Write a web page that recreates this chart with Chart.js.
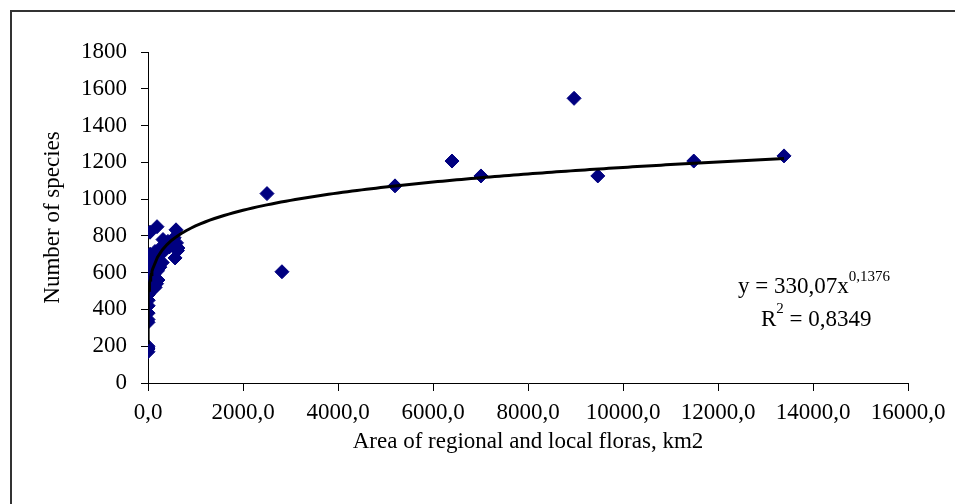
<!DOCTYPE html>
<html><head><meta charset="utf-8">
<script src="https://cdn.jsdelivr.net/npm/chart.js@4"></script>
<style>html,body{margin:0;padding:0;background:#fff}#wrap{position:relative;width:955px;height:504px}</style>
</head><body><div id="wrap"><canvas id="c" width="955" height="504"></canvas></div>
<script>
// Data
const areaKm2 = [
  0.05, 0.1, 0.2, 0.5,
  1, 2, 3, 4, 5, 6, 8, 10, 12, 15, 18, 20, 25, 30, 35, 40, 45, 50,
  100, 150, 180, 210, 120, 200, 250, 300, 183, 147, 42, 60, 80,
  42, 190,
  316, 390, 450, 500, 250, 350, 280, 420,
  590, 600, 570, 620, 550, 630,
  2505, 2820, 5200, 6400, 7010, 8970, 9470, 11490, 13390
];
const speciesCount = [
  170, 185, 200, 190,
  330, 345, 380, 420, 450, 480, 500, 520, 540, 560, 590, 610, 630, 650, 670, 690, 700, 560,
  510, 520, 540, 560, 590, 610, 630, 655, 655, 715, 697, 640, 600,
  820, 850,
  780, 760, 740, 750, 700, 720, 740, 770,
  833, 762, 680, 720, 790, 734,
  1030, 605, 1072, 1207, 1126, 1548, 1126, 1207, 1235
];
const xTickLabels = ['0,0','2000,0','4000,0','6000,0','8000,0','10000,0','12000,0','14000,0','16000,0'];
const yTickLabels = ['0','200','400','600','800','1000','1200','1400','1600','1800'];
const xTitle = 'Area of regional and local floras, km2';
const yTitle = 'Number of species';
const fitA = 330.07, fitB = 0.1376;           // displayed power-trendline coefficients
const eqMain = 'y = 330,07x', eqExp = '0,1376';
const r2Main = 'R', r2Sup = '2', r2Rest = ' = 0,8349';

const FONT = 'Liberation Serif, Times New Roman, serif';

// trendline through the displayed equation over the data range
const xMin = Math.min(...areaKm2), xMax = Math.max(...areaKm2);
const trend = [];
for (let i = 0; i <= 40; i++) { const x = xMin * Math.pow(100 / xMin, i / 40); trend.push({x, y: fitA * Math.pow(x, fitB)}); }
for (let x = 200; x <= xMax; x += 100) trend.push({x, y: fitA * Math.pow(x, fitB)});
trend.push({x: xMax, y: fitA * Math.pow(xMax, fitB)});

const pts = areaKm2.map((x, i) => ({x, y: speciesCount[i]}));

const deco = {
  id: 'deco',
  beforeDraw(chart) {
    const c = chart.ctx;
    c.save(); c.fillStyle = '#fff'; c.fillRect(0, 0, chart.width, chart.height); c.restore();
  },
  afterDraw(chart) {
    const c = chart.ctx; const a = chart.chartArea;
    c.save();
    c.fillStyle = '#333';
    c.fillRect(10, 10, chart.width - 10, 2);
    c.fillRect(10, 10, 2, chart.height - 10);
    c.fillStyle = '#000';
    c.font = '23px ' + FONT;
    c.textAlign = 'center'; c.textBaseline = 'middle';
    c.fillText(xTitle, (a.left + a.right) / 2, 442);
    c.save();
    c.translate(53, (a.top + a.bottom) / 2); c.rotate(-Math.PI / 2);
    c.fillText(yTitle, 0, 0);
    c.restore();
    c.textAlign = 'left'; c.textBaseline = 'alphabetic';
    c.font = '23px ' + FONT;
    c.fillText(eqMain, 738, 293);
    let w = c.measureText(eqMain).width;
    c.font = '15px ' + FONT;
    c.fillText(eqExp, 738 + w, 281);
    c.font = '23px ' + FONT;
    c.fillText(r2Main, 761, 326);
    w = c.measureText(r2Main).width;
    c.font = '15px ' + FONT;
    c.fillText(r2Sup, 761 + w, 313);
    const w2 = c.measureText(r2Sup).width;
    c.font = '23px ' + FONT;
    c.fillText(r2Rest, 761 + w + w2, 326);
    c.restore();
  }
};

new Chart(document.getElementById('c'), {
  type: 'scatter',
  data: {
    datasets: [
      { type: 'line', data: trend, borderColor: '#000', borderWidth: 3, pointRadius: 0, fill: false, tension: 0, order: 0 },
      { data: pts, pointStyle: 'rectRot', pointRadius: 7, backgroundColor: '#000080', borderColor: '#000080', borderWidth: 1, order: 1 }
    ]
  },
  options: {
    responsive: false, animation: false,
    layout: { padding: { top: 52, right: 47, left: 0, bottom: 0 } },
    plugins: { legend: { display: false }, tooltip: { enabled: false } },
    scales: {
      x: {
        type: 'linear', min: 0, max: 16000,
        ticks: { stepSize: 2000, color: '#000', padding: 8, maxRotation: 0, autoSkip: false,
          font: { family: FONT, size: 23 }, callback: (v, i) => xTickLabels[i] },
        grid: { drawOnChartArea: false, drawTicks: true, tickLength: 8, color: '#000' },
        border: { color: '#000', width: 1 },
        afterFit(s) { s.height = 121; }
      },
      y: {
        min: 0, max: 1800,
        ticks: { stepSize: 200, color: '#000', padding: 14, autoSkip: false,
          font: { family: FONT, size: 23 }, callback: (v, i) => yTickLabels[i] },
        grid: { drawOnChartArea: false, drawTicks: true, tickLength: 7, color: '#000' },
        border: { color: '#000', width: 1 },
        afterFit(s) { s.width = 148; }
      }
    }
  },
  plugins: [deco]
});
</script></body></html>
